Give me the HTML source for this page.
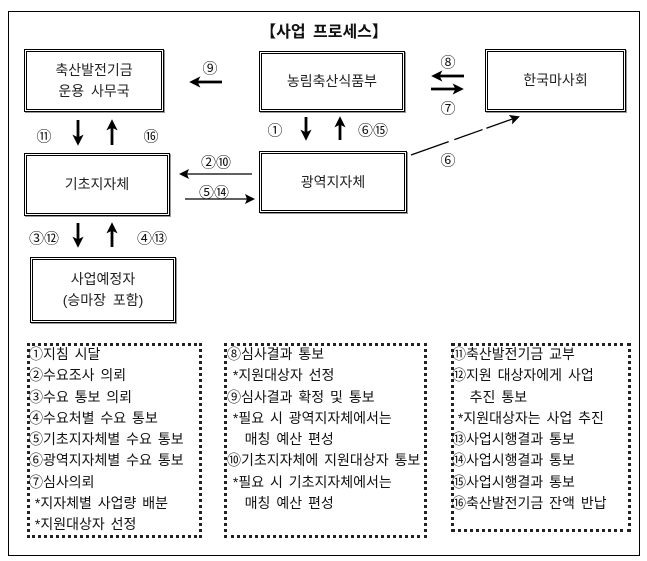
<!DOCTYPE html>
<html><head><meta charset="utf-8"><style>
body{margin:0;background:#fff;width:647px;height:561px;overflow:hidden;font-family:"Liberation Sans","Noto Sans CJK KR","NanumGothic",sans-serif;}
.abs{position:absolute}
.box{position:absolute;border:3px double #000;box-shadow:1px 1px 0 #999;display:flex;align-items:center;justify-content:center;text-align:center;font-size:14px;line-height:21px;color:#222;box-sizing:border-box}
.lbl{position:absolute;font-size:15px;color:#111;transform:translate(-50%,-50%);white-space:nowrap}
.dot{position:absolute;border:3px dotted #222;box-sizing:border-box}
.list{position:absolute;font-size:14px;line-height:21.25px;color:#111;white-space:nowrap;word-spacing:2px}
</style></head><body>
<div class="abs" style="left:8px;top:11px;width:632px;height:545px;border:1px solid #000;box-sizing:border-box"></div>
<div class="lbl" style="left:324px;top:30px;font-size:16px;font-weight:bold;word-spacing:3px">【사업 프로세스】</div>

<div class="box" style="left:24px;top:49px;width:140px;height:63px;word-spacing:3px">축산발전기금<br>운용 사무국</div>
<div class="box" style="left:259px;top:51px;width:146px;height:61px">농림축산식품부</div>
<div class="box" style="left:485px;top:49px;width:141px;height:63px">한국마사회</div>
<div class="box" style="left:24px;top:153px;width:146px;height:63px">기초지자체</div>
<div class="box" style="left:259px;top:151px;width:148px;height:62px">광역지자체</div>
<div class="box" style="left:30px;top:257px;width:146px;height:66px;word-spacing:3px">사업예정자<br>(승마장 포함)</div>

<svg class="abs" style="left:0;top:0" width="647" height="561">
<defs>
<marker id="a" markerWidth="4" markerHeight="4" refX="3" refY="2" orient="auto"><path d="M0,0 L4,2 L0,4 L1,2z" fill="#000"/></marker>
<marker id="b" markerWidth="10" markerHeight="10" refX="8" refY="5" orient="auto" markerUnits="userSpaceOnUse"><path d="M0,0 L10,5 L0,10 L2,5z" fill="#000"/></marker>
</defs>
<g stroke="#000" stroke-width="2.8" marker-end="url(#a)">
<line x1="222" y1="82" x2="192" y2="82"/>
<line x1="464" y1="76" x2="434" y2="76"/>
<line x1="431" y1="89" x2="461" y2="89"/>
<line x1="78" y1="120" x2="78" y2="143"/>
<line x1="112" y1="145" x2="112" y2="122"/>
<line x1="306" y1="117" x2="306" y2="138"/>
<line x1="340" y1="140" x2="340" y2="119"/>
<line x1="78" y1="223" x2="78" y2="245"/>
<line x1="112" y1="247" x2="112" y2="225"/>
</g>
<g stroke="#000" stroke-width="1.3" marker-end="url(#b)">
<line x1="252" y1="174" x2="181" y2="174"/>
<line x1="185" y1="199" x2="253" y2="199"/>
<line x1="411" y1="155" x2="518" y2="117" stroke-dasharray="40,6,30,4"/>
</g>
</svg>

<div class="lbl" style="left:210px;top:68px">⑨</div>
<div class="lbl" style="left:448px;top:62px">⑧</div>
<div class="lbl" style="left:448px;top:108px">⑦</div>
<div class="lbl" style="left:44px;top:136px">⑪</div>
<div class="lbl" style="left:151px;top:136px">⑯</div>
<div class="lbl" style="left:275px;top:130px">①</div>
<div class="lbl" style="left:373px;top:130px">⑥⑮</div>
<div class="lbl" style="left:448px;top:160px">⑥</div>
<div class="lbl" style="left:216px;top:162px">②⑩</div>
<div class="lbl" style="left:214px;top:192px">⑤⑭</div>
<div class="lbl" style="left:44px;top:238px">③⑫</div>
<div class="lbl" style="left:152px;top:238px">④⑬</div>

<div class="dot" style="left:27px;top:343px;width:175px;height:195px"></div>
<div class="dot" style="left:224px;top:343px;width:203px;height:195px"></div>
<div class="dot" style="left:451px;top:343px;width:180px;height:189px"></div>

<div class="list" style="left:29px;top:344px">①지침 시달<br>②수요조사 의뢰<br>③수요 통보 의뢰<br>④수요처별 수요 통보<br>⑤기초지자체별 수요 통보<br>⑥광역지자체별 수요 통보<br>⑦심사의뢰<br>&nbsp;*지자체별 사업량 배분<br>&nbsp;*지원대상자 선정</div>
<div class="list" style="left:227px;top:344px">⑧심사결과 통보<br>&nbsp;*지원대상자 선정<br>⑨심사결과 확정 및 통보<br>&nbsp;*필요 시 광역지자체에서는<br>&nbsp;&nbsp;&nbsp;매칭 예산 편성<br>⑩기초지자체에 지원대상자 통보<br>&nbsp;*필요 시 기초지자체에서는<br>&nbsp;&nbsp;&nbsp;매칭 예산 편성</div>
<div class="list" style="left:452px;top:344px">⑪축산발전기금 교부<br>⑫지원 대상자에게 사업<br>&nbsp;&nbsp;&nbsp;추진 통보<br>&nbsp;*지원대상자는 사업 추진<br>⑬사업시행결과 통보<br>⑭사업시행결과 통보<br>⑮사업시행결과 통보<br>⑯축산발전기금 잔액 반납</div>
</body></html>
